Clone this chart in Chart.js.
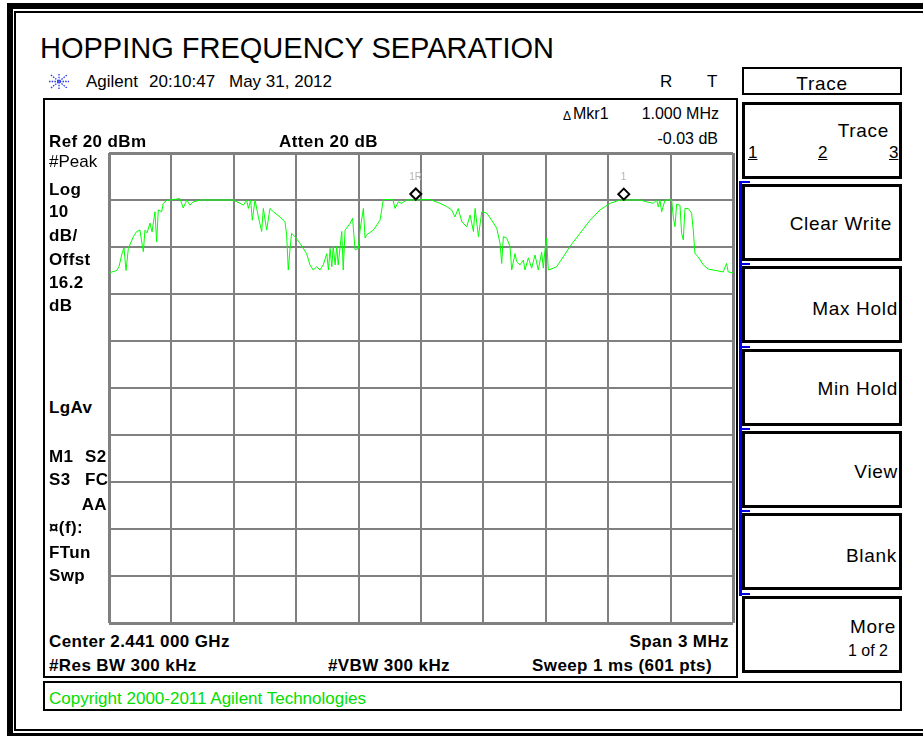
<!DOCTYPE html>
<html>
<head>
<meta charset="utf-8">
<title>Hopping Frequency Separation</title>
<script src="https://cdn.jsdelivr.net/npm/chart.js@4.4.0/dist/chart.umd.min.js"></script>
<style>
  html, body { margin: 0; padding: 0; background: #fff; }
  #page { position: relative; width: 923px; height: 736px; overflow: hidden; background: #fff;
          font-family: "Liberation Sans", Arial, sans-serif; color: #000; }
  .box { position: absolute; box-sizing: border-box; }
  .tx { position: absolute; line-height: 1; white-space: pre; }
  .b { font-weight: bold; letter-spacing: 0.4px; }
  .sk { letter-spacing: 0.7px; }
  #spec { position: absolute; left: 104px; top: 148px; }
</style>
</head>
<body>
<div id="page">
  <div class="box" style="left:7px;top:3px;width:916px;height:733px;border-top:6px solid #000;border-left:6px solid #000;border-bottom:3px solid #000"></div>
  <div class="box" style="left:14px;top:11px;width:909px;height:720px;border-top:2px solid #000;border-left:2px solid #000;border-bottom:2px solid #000"></div>

  <!-- display window -->
  <div class="box" style="left:43px;top:98px;width:695px;height:580px;border:2px solid #000"></div>
  <div class="box" style="left:43px;top:681px;width:859px;height:30px;border:2px solid #000"></div>

  <!-- softkey panel -->
  <div class="box" style="left:742px;top:67px;width:160px;height:28px;border:2px solid #000"></div>
  <div id="keys"></div>
  <div class="box" style="left:739px;top:181px;width:3px;height:415px;background:#0000e0"></div>

  <svg style="position:absolute;left:48px;top:73px" width="22" height="17">
    <g stroke="#2233ee" stroke-width="1.3" stroke-dasharray="1.5 1.2">
      <line x1="11" y1="1" x2="11" y2="16"/>
      <line x1="1" y1="8.5" x2="21" y2="8.5"/>
      <line x1="3" y1="2" x2="19" y2="15"/>
      <line x1="3" y1="15" x2="19" y2="2"/>
    </g>
  </svg>

  <canvas id="spec" width="634" height="480"></canvas>
</div>

<script>
// trace: offset from centre (kHz) and level (dBm)
const freqKHz = [
  -1500, -1463, -1452, -1437, -1428, -1418, -1407, -1383, -1367, -1351,
  -1344, -1335, -1327, -1317, -1303, -1293, -1279, -1271, -1263, -1247,
  -1239, -1223, -1207, -1159, -1143, -1126, -1111, -1095, -1062, -904,
  -870, -854, -838, -830, -819, -811, -798, -782, -766, -758,
  -742, -726, -710, -678, -654, -646, -638, -630, -622, -606,
  -582, -550, -534, -518, -501, -486, -470, -453, -445, -437,
  -429, -422, -413, -405, -398, -381, -374, -365, -341, -329,
  -317, -301, -293, -277, -269, -261, -229, -197, -181, -135,
  -125, -109, -93, -69, 43, 91, 124, 147, 163, 179,
  196, 220, 236, 252, 260, 276, 292, 316, 340, 364,
  380, 388, 396, 412, 428, 436, 452, 460, 476, 492,
  500, 516, 532, 548, 564, 580, 588, 596, 604, 612,
  636, 652, 684, 716, 764, 813, 861, 909, 957, 1053,
  1085, 1117, 1133, 1141, 1149, 1157, 1173, 1205, 1213, 1221,
  1229, 1245, 1253, 1261, 1269, 1285, 1301, 1309, 1317, 1333,
  1357, 1381, 1405, 1453, 1469, 1477, 1500
];
const levelDb = [
  -5.5, -5.0, -4.2, -1.3, -0.2, -5.0, -0.3, 2.2, 3.3, 3.6,
  1.5, -1.0, 3.6, 3.0, 5.1, 3.2, 7.5, 1.1, 7.9, 7.5,
  9.3, 9.9, 10.0, 10.3, 8.3, 10.0, 8.9, 9.6, 10.0, 10.0,
  9.3, 8.9, 10.0, 8.2, 10.0, 5.7, 10.0, 6.4, 3.3, 8.2,
  3.6, 8.2, 7.5, 6.4, 5.4, 2.6, -4.9, -0.6, 2.9, 2.2,
  0.8, -1.4, -3.8, -4.9, -4.2, -4.9, -3.8, -1.4, -4.9, -0.3,
  -4.2, 0.1, -3.8, 0.1, -3.8, 3.3, -4.9, 3.6, 5.0, 6.1,
  -0.6, -0.3, 3.6, 8.2, 1.9, 2.6, 3.6, 5.7, 10.1, 10.1,
  8.2, 9.6, 9.3, 10.0, 10.1, 9.3, 8.6, 7.9, 6.4, 8.2,
  5.4, 4.3, 6.8, 3.3, 8.2, 2.2, 7.5, 7.2, 5.7, 4.0,
  0.8, -3.5, 2.2, 1.9, 0.1, -4.9, -1.4, -3.1, -3.8, -2.8,
  -4.9, -2.3, -4.5, -1.7, -4.9, -1.1, -4.5, -0.6, 1.9, -4.9,
  -4.5, -4.2, -2.1, 0.1, 2.9, 5.7, 7.9, 9.3, 10.0, 10.0,
  9.6, 9.3, 10.0, 8.5, 10.0, 7.5, 10.0, 10.0, 6.4, 4.3,
  9.1, 8.9, 2.9, 1.5, 8.2, 8.2, 7.2, 3.6, -1.4, -2.1,
  -3.8, -4.7, -4.9, -5.3, -3.5, -5.3, -5.5
];
const markerNames = ['1R', '1'];
const markerKHz = [-25, 975];
const markerDb = [10.0, 9.97];

const spanKHz = 3000;
const refLevel = 20;
const dbPerDiv = 10;

const page = document.getElementById('page');

// text placed by its baseline (Liberation Sans, line-height 1)
function put(txt, x, base, size, cls, align, extra) {
  const el = document.createElement('div');
  el.className = 'tx ' + (cls || '');
  el.textContent = txt;
  el.style.fontSize = size + 'px';
  el.style.top = (base - 0.8465 * size) + 'px';
  if (align === 'right') el.style.right = (923 - x) + 'px';
  else if (align === 'center') { el.style.left = (x - 100) + 'px'; el.style.width = '200px'; el.style.textAlign = 'center'; }
  else el.style.left = x + 'px';
  if (extra) Object.assign(el.style, extra);
  page.appendChild(el);
  return el;
}

// softkeys
const keyTops = [102, 184, 266, 349, 431, 513, 596];
const keys = document.getElementById('keys');
keyTops.forEach(function(t, i) {
  const k = document.createElement('div');
  k.className = 'box';
  Object.assign(k.style, { left: '742px', top: t + 'px', width: '160px', height: '77px', border: '3px solid #000' });
  keys.appendChild(k);
  if (i > 0 && i < 7) {
    const tick = document.createElement('div');
    tick.className = 'box';
    Object.assign(tick.style, { left: '739px', top: (t - 3) + 'px', width: '11px', height: '2px', background: '#0000e0' });
    keys.appendChild(tick);
  }
});

put('HOPPING FREQUENCY SEPARATION', 40, 59, 29);
put('Agilent', 86, 87.5, 17);
put('20:10:47', 149, 87.5, 17);
put('May 31, 2012', 229, 87.5, 17);
put('R', 660, 87.5, 17);
put('T', 707, 87.5, 17);

put('Trace', 822, 90, 19, 'sk', 'center');
put('Trace', 889, 137, 19, 'sk', 'right');
put('1', 748, 158, 17, '', 'left', { textDecoration: 'underline' });
put('2', 818, 158, 17, '', 'left', { textDecoration: 'underline' });
put('3', 889, 158, 17, '', 'left', { textDecoration: 'underline' });
put('Clear Write', 892, 230, 19, 'sk', 'right');
put('Max Hold', 898, 315, 19, 'sk', 'right');
put('Min Hold', 898, 395, 19, 'sk', 'right');
put('View', 898, 478, 19, 'sk', 'right');
put('Blank', 897, 562, 19, 'sk', 'right');
put('More', 896, 633, 19, 'sk', 'right');
put('1 of 2', 888, 657, 16, '', 'right');

put('\u0394', 563, 120, 12);
put('Mkr1', 573, 120, 16);
put('1.000 MHz', 719, 120, 16, '', 'right');
put('-0.03 dB', 718, 145, 16, '', 'right');
put('Ref 20 dBm', 49, 147, 17, 'b');
put('Atten 20 dB', 279, 147, 17, 'b');

put('#Peak', 49, 167, 17);
put('Log', 49, 195, 17, 'b');
put('10', 49, 217, 17, 'b');
put('dB/', 49, 241, 17, 'b');
put('Offst', 49, 265, 17, 'b');
put('16.2', 49, 288, 17, 'b');
put('dB', 49, 311, 17, 'b');
put('LgAv', 49, 413, 17, 'b');
put('M1', 49, 462, 17, 'b');
put('S2', 85, 462, 17, 'b');
put('S3', 49, 485, 17, 'b');
put('FC', 85, 485, 17, 'b');
put('AA', 107, 510, 17, 'b', 'right');
put('\u00a4(f):', 49, 533, 17, 'b');
put('FTun', 49, 558, 17, 'b');
put('Swp', 49, 581, 17, 'b');

put('Center 2.441 000 GHz', 49, 647, 17, 'b');
put('Span 3 MHz', 729, 647, 17, 'b', 'right');
put('#Res BW 300 kHz', 49, 671, 17, 'b');
put('#VBW 300 kHz', 328, 671, 17, 'b');
put('Sweep 1 ms (601 pts)', 712, 671, 17, 'b', 'right');
put('Copyright 2000-2011 Agilent Technologies', 49, 704, 17, '', 'left', { color: '#00e000' });

const markerLabels = markerNames.map(function(n) {
  return put(n, 0, 0, 10, '', 'left', { color: '#b4b4b4' });
});

const points = freqKHz.map(function(f, i) { return { x: f, y: levelDb[i] }; });

function edgeWidth(c) {
  const n = c.scale.ticks.length;
  return (c.index === 0 || c.index === n - 1) ? 3 : 2;
}

const markerPlugin = {
  id: 'markers',
  afterDatasetsDraw: function(chart) {
    const c = chart.ctx, xs = chart.scales.x, ys = chart.scales.y;
    const can = chart.canvas;
    markerKHz.forEach(function(f, i) {
      const px = xs.getPixelForValue(f);
      const py = ys.getPixelForValue(markerDb[i]) - 6;
      c.save();
      c.beginPath();
      c.moveTo(px, py - 5.5);
      c.lineTo(px + 5.5, py);
      c.lineTo(px, py + 5.5);
      c.lineTo(px - 5.5, py);
      c.closePath();
      c.fillStyle = '#fff';
      c.fill();
      c.lineWidth = 2;
      c.strokeStyle = '#000';
      c.stroke();
      c.restore();
      const lab = markerLabels[i];
      lab.style.left = (can.offsetLeft + px - lab.offsetWidth / 2) + 'px';
      lab.style.top = (can.offsetTop + py - 22) + 'px';
    });
  }
};

new Chart(document.getElementById('spec').getContext('2d'), {
  type: 'line',
  data: {
    datasets: [{
      data: points,
      borderColor: '#00ff00',
      borderWidth: 1,
      pointRadius: 0,
      tension: 0,
      clip: false
    }]
  },
  options: {
    responsive: false,
    animation: false,
    events: [],
    layout: { autoPadding: false, padding: { left: 5, right: 5, top: 5, bottom: 5 } },
    plugins: { legend: { display: false }, tooltip: { enabled: false } },
    scales: {
      x: {
        type: 'linear',
        min: -spanKHz / 2,
        max: spanKHz / 2,
        ticks: { display: false, stepSize: spanKHz / 10 },
        grid: { color: '#808080', lineWidth: edgeWidth, drawTicks: false },
        border: { display: false }
      },
      y: {
        type: 'linear',
        min: refLevel - 10 * dbPerDiv,
        max: refLevel,
        ticks: { display: false, stepSize: dbPerDiv },
        grid: { color: '#808080', lineWidth: edgeWidth, drawTicks: false },
        border: { display: false }
      }
    }
  },
  plugins: [markerPlugin]
});
</script>
</body>
</html>
